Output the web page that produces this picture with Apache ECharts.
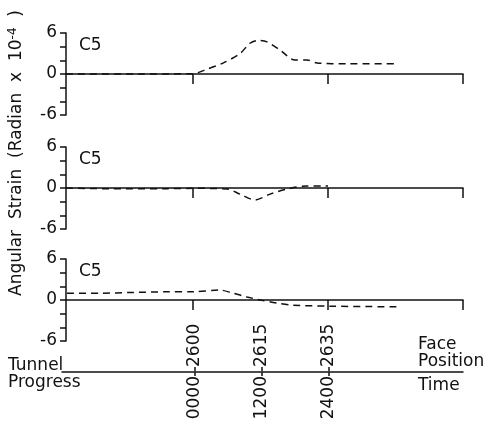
<!DOCTYPE html>
<html>
<head>
<meta charset="utf-8">
<script src="https://cdn.jsdelivr.net/npm/echarts@6/dist/echarts.min.js"></script>
<style>
  html, body { margin: 0; padding: 0; background: #fff; }
  #chart { width: 490px; height: 425px; }
</style>
</head>
<body>
<div id="chart"></div>
<script>
// time axis (clock time) shared by the three panels
const X_MIN = -2258
const X_MAX = 4800
const panelTicks = [0, 2400, 4800]

// panel 1 - C5
const time1 = [-2258, -1000, 0, 213, 533, 836, 1013, 1156, 1316, 1547, 1813, 2027, 2204, 2738, 3627]
const strain1 = [0, 0, 0.05, 0.6, 1.6, 3.0, 4.5, 4.9, 4.7, 3.5, 2.05, 2.05, 1.6, 1.5, 1.5]

// panel 2 - C5
const time2 = [-2258, -1500, -500, 0, 604, 836, 1102, 1369, 1671, 2027, 2400]
const strain2 = [0, -0.1, -0.1, -0.05, -0.15, -0.9, -1.75, -0.9, -0.15, 0.3, 0.3]

// panel 3 - C5
const time3 = [-2240, -1653, -1067, -462, 0, 480, 711, 960, 1191, 1493, 1778, 2436, 3680]
const strain3 = [1.0, 1.0, 1.1, 1.2, 1.2, 1.45, 1.0, 0.45, 0, -0.45, -0.75, -0.9, -1.0]

// tunnel progress scale
const progressTicks = [0, 1200, 2400]
const timeLabels = ['0000', '1200', '2400']
const faceLabels = ['2600', '2615', '2635']
const panelNames = ['C5', 'C5', 'C5']

const FONT = 'DejaVu Sans'
const INK = '#111'

let zip = (xs, ys) => xs.map((x, i) => [x, ys[i]])

let panelTops = [33, 147, 259]

let grids = panelTops.map(t => ({ left: 66, right: 27, top: t, height: 82 }))
grids.push({ left: 62, right: 27, top: 371, height: 1 }) // tunnel progress line

let xAxes = panelTops.map((t, i) => ({
  type: 'value',
  gridIndex: i,
  min: X_MIN,
  max: X_MAX,
  axisLine: { onZero: true, lineStyle: { color: INK, width: 1.5 } },
  axisTick: { show: true, length: 10, customValues: panelTicks, lineStyle: { color: INK, width: 1.5 } },
  axisLabel: { show: false },
  splitLine: { show: false }
}))

let yAxes = panelTops.map((t, i) => ({
  type: 'value',
  gridIndex: i,
  min: -6,
  max: 6,
  interval: 2,
  axisLine: { show: true, onZero: false, lineStyle: { color: INK, width: 1.5 } },
  axisTick: { show: true, length: 6, lineStyle: { color: INK, width: 1.5 } },
  axisLabel: {
    margin: 9,
    color: INK,
    fontFamily: FONT,
    fontSize: 17,
    formatter: v => (v === 6 || v === 0 || v === -6 ? String(v) : '')
  },
  splitLine: { show: false }
}))

// bottom axis: times, top axis: face positions (both read bottom-to-top)
let progressLabel = (labels) => (v) => {
  let idx = progressTicks.indexOf(v)
  return idx >= 0 ? labels[idx] : ''
}
xAxes.push({
  type: 'value',
  gridIndex: 3,
  position: 'bottom',
  min: -2380,
  max: X_MAX,
  axisLine: { onZero: false, lineStyle: { color: INK, width: 1.5 } },
  axisTick: { length: 4, customValues: progressTicks, lineStyle: { color: INK, width: 1.5 } },
  axisLabel: {
    customValues: progressTicks, rotate: 90, margin: 4, color: INK,
    fontFamily: FONT, fontSize: 17, formatter: progressLabel(timeLabels)
  },
  splitLine: { show: false }
})
xAxes.push({
  type: 'value',
  gridIndex: 3,
  position: 'top',
  min: -2380,
  max: X_MAX,
  axisLine: { show: false, onZero: false },
  axisTick: { length: 4, customValues: progressTicks, lineStyle: { color: INK, width: 1.5 } },
  axisLabel: {
    customValues: progressTicks, rotate: -90, margin: 4, color: INK,
    fontFamily: FONT, fontSize: 17, formatter: progressLabel(faceLabels)
  },
  splitLine: { show: false }
})
yAxes.push({ type: 'value', gridIndex: 3, min: 0, max: 1, show: false })

let dashed = (idx, xs, ys) => ({
  type: 'line',
  xAxisIndex: idx,
  yAxisIndex: idx,
  data: zip(xs, ys),
  smooth: 0.3,
  symbol: 'none',
  silent: true,
  lineStyle: { color: INK, width: 1.5, type: [7, 5] }
})

let text = (x, y, str, extra) => ({
  type: 'text',
  x: x,
  y: y,
  style: Object.assign({ text: str, fill: INK, font: '17px "' + FONT + '"' }, extra || {})
})

let graphics = panelTops.map((t, i) => text(79, t + 4, panelNames[i]))
graphics.push(text(8, 357, 'Tunnel'))
graphics.push(text(8, 374, 'Progress'))
graphics.push(text(418, 336, 'Face'))
graphics.push(text(418, 353, 'Position'))
graphics.push(text(418, 377, 'Time'))
graphics.push({
  type: 'text',
  x: 17,
  y: 153,
  rotation: Math.PI / 2,
  style: {
    text: 'Angular  Strain  (Radian  x  10{sup|-4}  )',
    fill: INK,
    font: '17px "' + FONT + '"',
    align: 'center',
    verticalAlign: 'middle',
    rich: {
      sup: { fontSize: 12, fontFamily: FONT, fill: INK, padding: [0, 0, 8, 0] }
    }
  }
})

let chart = echarts.init(document.getElementById('chart'), null, { renderer: 'canvas' })
chart.setOption({
  animation: false,
  backgroundColor: '#fff',
  grid: grids,
  xAxis: xAxes,
  yAxis: yAxes,
  series: [
    dashed(0, time1, strain1),
    dashed(1, time2, strain2),
    dashed(2, time3, strain3)
  ],
  graphic: graphics
})
</script>
</body>
</html>
